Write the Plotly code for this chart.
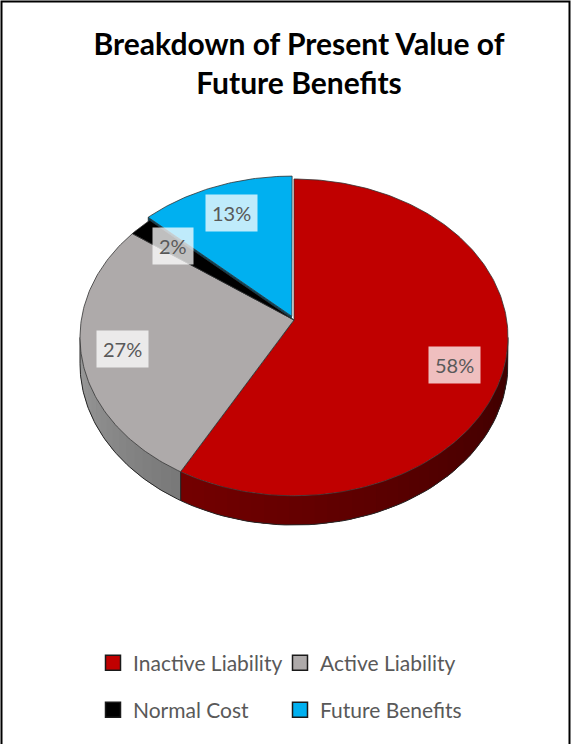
import numpy as np
import plotly.graph_objects as go

# ---------------- data ----------------
categories = ["Inactive Liability", "Active Liability", "Normal Cost", "Future Benefits"]
values = [58, 27, 2, 13]
label_text = [f"{v}%" for v in values]

# ---------------- styles ----------------
top_colors = ["#C00000", "#AEAAAA", "#000000", "#00B0F0"]
wall_colors = [("#3a0000", "#740000"),   # colour at start / end of the visible wall arc
               ("#787878", "#9c9c9c"),
               ("#000000", "#000000"),
               ("#004a66", "#004a66")]
explode = [0.0, 0.0, 0.0, 0.025]
label_radius = 0.78
label_shift = [(-4, -14), (-7, -2), (0, 0), (0, 0)]

W, H = 571, 744
CX, CY = 294, 320          # pie centre on the page (px)
RX, RY = 212.7, 156.5      # projected radii
Q = 0.11                   # perspective strength
DEPTH = 26                 # pie thickness
FONT = "Lato"


def proj(X, Y, down=0.0):
    w = 1.0 / (1.0 + Q * np.asarray(Y))
    return CX + RX * np.asarray(X) * w, CY - RY * np.asarray(Y) * w + DEPTH * down * w


def hex2rgb(h):
    h = h.lstrip("#")
    return np.array([int(h[i:i + 2], 16) for i in (0, 2, 4)], float)


def mix(c0, c1, t):
    c = hex2rgb(c0) * (1 - t) + hex2rgb(c1) * t
    return "rgb(%d,%d,%d)" % tuple(np.round(c))


total = float(sum(values))
ends = np.cumsum(values) / total * 360.0
starts = np.concatenate([[0.0], ends[:-1]])
mids = (starts + ends) / 2

front_lo = np.degrees(np.arccos(-Q))
front_hi = 360.0 - front_lo

fig = go.Figure()

# ---- outer walls (front-facing part only) ----
for i in range(len(values)):
    a0, a1 = max(starts[i], front_lo), min(ends[i], front_hi)
    if a1 <= a0:
        continue
    m = np.radians(mids[i])
    ex, ey = explode[i] * np.sin(m), explode[i] * np.cos(m)
    # base polygon (avoids seams between gradient strips)
    t = np.radians(np.linspace(a0, a1, 80))
    X, Y = np.sin(t) + ex, np.cos(t) + ey
    xt, yt = proj(X, Y, 0)
    xb, yb = proj(X, Y, 1)
    fig.add_trace(go.Scatter(
        x=np.concatenate([xt, xb[::-1]]), y=np.concatenate([yt, yb[::-1]]),
        mode="lines", fill="toself", fillcolor=mix(wall_colors[i][0], wall_colors[i][1], 0.5),
        line=dict(width=0), hoverinfo="skip", showlegend=False))
    nseg = max(2, int((a1 - a0) / 3))
    edges = np.linspace(a0, a1, nseg + 1)
    for k in range(nseg):
        lo = edges[k] - (0.4 if k > 0 else 0)
        t = np.radians(np.linspace(lo, edges[k + 1], 4))
        X, Y = np.sin(t) + ex, np.cos(t) + ey
        xt, yt = proj(X, Y, 0)
        xb, yb = proj(X, Y, 1)
        col = mix(wall_colors[i][0], wall_colors[i][1], ((edges[k] + edges[k + 1]) / 2 - a0) / (a1 - a0))
        fig.add_trace(go.Scatter(
            x=np.concatenate([xt, xb[::-1]]), y=np.concatenate([yt, yb[::-1]]),
            mode="lines", fill="toself", fillcolor=col,
            line=dict(width=0), hoverinfo="skip", showlegend=False))
    # wall outline
    t = np.radians(np.linspace(a0, a1, 60))
    X, Y = np.sin(t) + ex, np.cos(t) + ey
    xb, yb = proj(X, Y, 1)
    x0t, y0t = proj(X[0], Y[0], 0)
    x1t, y1t = proj(X[-1], Y[-1], 0)
    fig.add_trace(go.Scatter(
        x=np.concatenate([[x0t], xb, [x1t]]), y=np.concatenate([[y0t], yb, [y1t]]),
        mode="lines", line=dict(color="#262626", width=1), hoverinfo="skip", showlegend=False))

# ---- radial wall of the exploded slice ----
for i in range(len(values)):
    if explode[i] <= 0:
        continue
    m = np.radians(mids[i])
    ex, ey = explode[i] * np.sin(m), explode[i] * np.cos(m)
    s = np.radians(starts[i])
    X = np.array([ex, np.sin(s) + ex])
    Y = np.array([ey, np.cos(s) + ey])
    xt, yt = proj(X, Y, 0)
    xb, yb = proj(X, Y, 1)
    fig.add_trace(go.Scatter(
        x=np.concatenate([xt, xb[::-1]]), y=np.concatenate([yt, yb[::-1]]),
        mode="lines", fill="toself", fillcolor=wall_colors[i][0],
        line=dict(color="#101010", width=0.6), hoverinfo="skip", showlegend=False))

# ---- top faces ----
for i in range(len(values)):
    m = np.radians(mids[i])
    ex, ey = explode[i] * np.sin(m), explode[i] * np.cos(m)
    t = np.radians(np.linspace(starts[i], ends[i], max(8, int(values[i] * 4))))
    X = np.concatenate([[ex], np.sin(t) + ex, [ex]])
    Y = np.concatenate([[ey], np.cos(t) + ey, [ey]])
    xs, ys = proj(X, Y, 0)
    fig.add_trace(go.Scatter(
        x=xs, y=ys, mode="lines", fill="toself", fillcolor=top_colors[i],
        line=dict(color="#333333", width=0.8), name=categories[i],
        hovertemplate=f"{categories[i]}: {label_text[i]}<extra></extra>", showlegend=False))

# ---- data labels ----
for i in range(len(values)):
    m = np.radians(mids[i])
    ex, ey = explode[i] * np.sin(m), explode[i] * np.cos(m)
    lx, ly = proj(label_radius * np.sin(m) + ex, label_radius * np.cos(m) + ey, 0)
    fig.add_annotation(
        x=float(lx), y=float(ly), text=label_text[i], showarrow=False,
        xshift=label_shift[i][0], yshift=label_shift[i][1],
        font=dict(family=FONT, size=20, color="#595959"),
        bgcolor="rgba(255,255,255,0.75)", borderpad=6)

# ---- legend entries ----
for i in range(len(values)):
    fig.add_trace(go.Scatter(
        x=[None], y=[None], mode="markers", name=categories[i],
        marker=dict(symbol="square", size=15, color=top_colors[i],
                    line=dict(color="#1a1a1a", width=1.5)),
        legend="legend" if i < 2 else "legend2", showlegend=True))

legend_common = dict(orientation="h", xanchor="left", yanchor="middle",
                     font=dict(family=FONT, size=21, color="#595959"),
                     bgcolor="rgba(0,0,0,0)", entrywidth=142, entrywidthmode="pixels",
                     itemclick=False, itemdoubleclick=False)

fig.update_layout(
    width=W, height=H,
    margin=dict(l=0, r=0, t=0, b=0),
    paper_bgcolor="white", plot_bgcolor="white",
    xaxis=dict(range=[0, W], visible=False, fixedrange=True),
    yaxis=dict(range=[H, 0], visible=False, fixedrange=True),
    title=dict(text="<b>Breakdown of Present Value of<br>Future Benefits</b>",
               x=299 / W, xanchor="center", y=1 - 55 / H, yanchor="top",
               font=dict(family=FONT, size=30, color="#000000")),
    legend=dict(x=93 / W, y=1 - 663 / H, **legend_common),
    legend2=dict(x=93 / W, y=1 - 710 / H, **legend_common),
    shapes=[dict(type="rect", xref="x", yref="y", x0=1.5, x1=569.5, y0=1.5, y1=760,
                 line=dict(color="#000000", width=2), fillcolor="rgba(0,0,0,0)", layer="above")],
)

fig.write_html("out.html")
